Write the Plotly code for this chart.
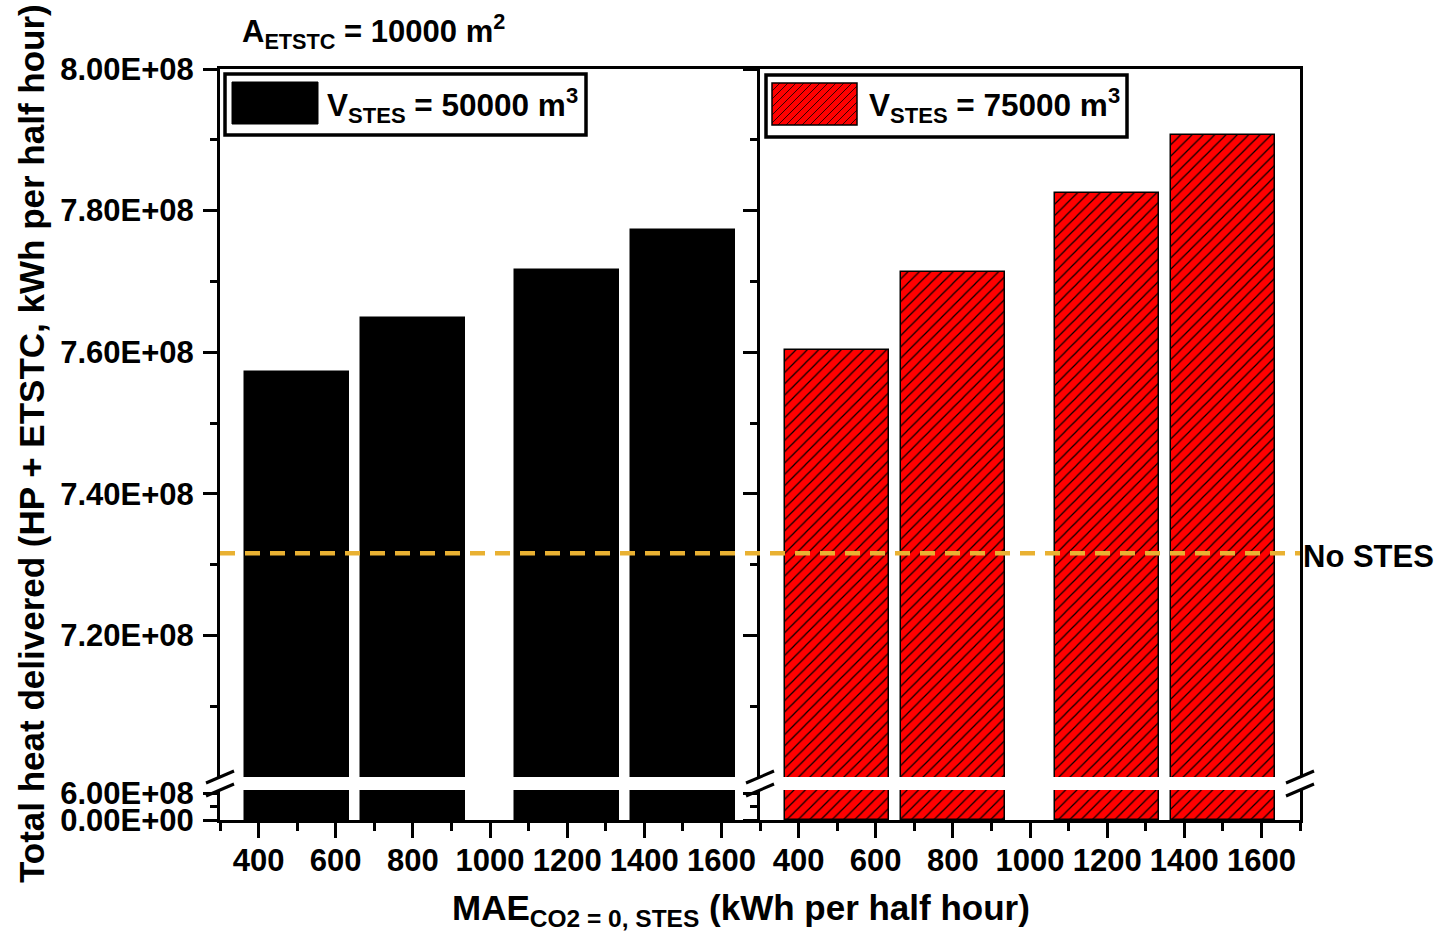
import plotly.graph_objects as go

# ---------------- data ----------------
mae_values = [500, 800, 1200, 1500]                      # MAE CO2=0, STES (kWh per half hour)
heat_vstes_50000 = [7.572e8, 7.648e8, 7.716e8, 7.772e8]  # V_STES = 50000 m3
heat_vstes_75000 = [7.603e8, 7.713e8, 7.825e8, 7.907e8]  # V_STES = 75000 m3
no_stes_value = 7.316e8

x_tickvals = [400, 600, 800, 1000, 1200, 1400, 1600]
x_ticktext = ["400", "600", "800", "1000", "1200", "1400", "1600"]
x_minor = [300, 500, 700, 900, 1100, 1300, 1500, 1700]
y_upper_tickvals = [7.2e8, 7.4e8, 7.6e8, 7.8e8, 8.0e8]
y_upper_ticktext = ["7.20E+08", "7.40E+08", "7.60E+08", "7.80E+08", "8.00E+08"]
y_upper_minor = [7.1e8, 7.3e8, 7.5e8, 7.7e8, 7.9e8]
y_lower_tickvals = [0, 6.0e8]
y_lower_ticktext = ["0.00E+00", "6.00E+08"]
y_lower_minor = [3.0e8]

# ---------------- geometry helpers ----------------
W, H = 1443, 939
L, R, T, B = 220, 1300, 69, 820
PW, PH = R - L, B - T


def px(x):
    return (x - L) / PW


def py(y):
    return (B - y) / PH


FONT = "Liberation Sans, Arial, sans-serif"


def fnt(size):
    return dict(family=FONT, size=size, color="black", weight="bold")


RED = "#FF0000"
BAR_W = 270

fig = go.Figure()

panels = [
    (heat_vstes_50000, "x", "y", "x3", "y3", dict(color="black", line=dict(color="black", width=1.5))),
    (heat_vstes_75000, "x2", "y2", "x4", "y4",
     dict(color=RED, line=dict(color="black", width=1.5),
          pattern=dict(shape="/", fgcolor="black", bgcolor=RED, size=8, solidity=0.15, fillmode="replace"))),
]
for vals, xl, yl, xu, yu, mk in panels:
    for xa, ya in ((xl, yl), (xu, yu)):
        fig.add_trace(go.Bar(x=mae_values, y=vals, width=BAR_W, marker=mk,
                             xaxis=xa, yaxis=ya, showlegend=False, hoverinfo="skip"))

upper_dom = [py(777), 1]
lower_dom = [0, py(790)]

axis_common = dict(showgrid=False, zeroline=False, showline=True, linewidth=3, linecolor="black")

xbase = dict(axis_common, range=[300, 1700], tickvals=x_tickvals, ticktext=x_ticktext,
             ticks="outside", ticklen=15, tickwidth=3, tickcolor="black", tickfont=fnt(31),
             ticklabelstandoff=-4,
             minor=dict(tickvals=x_minor, ticks="outside", ticklen=8, tickwidth=3, tickcolor="black"))
xtop = dict(axis_common, range=[300, 1700], side="top", ticks="", showticklabels=False)

ybase = dict(axis_common, ticks="outside", ticklen=14, tickwidth=3, tickcolor="black",
             tickfont=fnt(31), ticklabelstandoff=3)
minor_low = dict(tickvals=y_lower_minor, ticks="outside", ticklen=7, tickwidth=3, tickcolor="black")
minor_up = dict(tickvals=y_upper_minor, ticks="outside", ticklen=7, tickwidth=3, tickcolor="black")

fig.update_layout(
    width=W, height=H,
    margin=dict(l=L, r=W - R, t=T, b=H - B),
    paper_bgcolor="white", plot_bgcolor="white",
    showlegend=False, hovermode=False, bargap=0,
    xaxis=dict(xbase, domain=[0, 0.5], anchor="y"),
    xaxis2=dict(xbase, domain=[0.5, 1], anchor="y2"),
    xaxis3=dict(xtop, domain=[0, 0.5], anchor="y3", matches="x"),
    xaxis4=dict(xtop, domain=[0.5, 1], anchor="y4", matches="x2"),
    yaxis=dict(ybase, domain=lower_dom, anchor="x", range=[0, 6.667e8], mirror=False,
               tickvals=y_lower_tickvals, ticktext=y_lower_ticktext, minor=minor_low),
    yaxis2=dict(ybase, domain=lower_dom, anchor="x2", range=[0, 6.667e8], mirror=True,
                tickvals=y_lower_tickvals, showticklabels=False, minor=minor_low),
    yaxis3=dict(ybase, domain=upper_dom, anchor="x3", range=[7.0e8, 8.0e8], mirror=False,
                tickvals=y_upper_tickvals, ticktext=y_upper_ticktext, minor=minor_up),
    yaxis4=dict(ybase, domain=upper_dom, anchor="x4", range=[7.0e8, 8.0e8], mirror=True,
                tickvals=y_upper_tickvals, showticklabels=False, minor=minor_up),
)

shapes = []
# No STES reference line
shapes.append(dict(type="line", xref="paper", yref="y3", x0=0, x1=1, y0=no_stes_value, y1=no_stes_value,
                   line=dict(color="#E9B132", width=4.5, dash="15px,10px"), layer="above"))

# axis break marks
for bx in (220, 760, 1300):
    for yc in (777, 790):
        shapes.append(dict(type="line", xref="paper", yref="paper",
                           x0=px(bx - 14), x1=px(bx + 14), y0=py(yc + 6), y1=py(yc - 6),
                           line=dict(color="black", width=3), layer="above"))

# legend boxes
for (bx0, by0, bx1, by1) in ((225, 74, 586, 135), (766, 75, 1127, 137)):
    shapes.append(dict(type="rect", xref="paper", yref="paper",
                       x0=px(bx0), x1=px(bx1), y0=py(by1), y1=py(by0),
                       line=dict(color="black", width=3.5), fillcolor="white", layer="above"))

# swatch 1 (solid black)
shapes.append(dict(type="rect", xref="paper", yref="paper", x0=px(232), x1=px(318), y0=py(124), y1=py(82),
                   line=dict(color="black", width=1), fillcolor="black", layer="above"))
# swatch 2 (red hatched)
sx0, sy0, sx1, sy1 = 772, 83, 857, 125
shapes.append(dict(type="rect", xref="paper", yref="paper", x0=px(sx0), x1=px(sx1), y0=py(sy1), y1=py(sy0),
                   line=dict(width=0), fillcolor=RED, layer="above"))
path = ""
c = sx0 + sy0 + 8
while c < sx1 + sy1:
    xa = max(sx0, c - sy1)
    xb = min(sx1, c - sy0)
    if xb > xa:
        path += f"M{px(xa)},{py(c - xa)} L{px(xb)},{py(c - xb)} "
    c += 8
shapes.append(dict(type="path", xref="paper", yref="paper", path=path,
                   line=dict(color="black", width=0.8), layer="above"))
shapes.append(dict(type="rect", xref="paper", yref="paper", x0=px(sx0), x1=px(sx1), y0=py(sy1), y1=py(sy0),
                   line=dict(color="black", width=1.5), fillcolor="rgba(0,0,0,0)", layer="above"))
fig.update_layout(shapes=shapes)

ann = [
    dict(text="A<sub>ETSTC</sub> = 10000 m<sup>2</sup>", x=px(240), y=py(31), xanchor="left",
         yanchor="middle", font=fnt(31)),
    dict(text="V<sub>STES</sub> = 50000 m<sup>3</sup>", x=px(325), y=py(105), xanchor="left",
         yanchor="middle", font=fnt(31.5)),
    dict(text="V<sub>STES</sub> = 75000 m<sup>3</sup>", x=px(867), y=py(106), xanchor="left",
         yanchor="middle", font=fnt(31.5)),
    dict(text="No STES", x=px(1301), y=py(556), xanchor="left", yanchor="middle", font=fnt(31)),
    dict(text="Total heat delivered (HP + ETSTC, kWh per half hour)", x=px(32), y=py(444),
         xanchor="center", yanchor="middle", textangle=-90, font=fnt(35)),
    dict(text="MAE<sub>CO2 = 0, STES</sub> (kWh per half hour)", x=px(741), y=py(910),
         xanchor="center", yanchor="middle", font=fnt(35)),
]
for a in ann:
    fig.add_annotation(xref="paper", yref="paper", showarrow=False, **a)

fig.write_html("out.html")
